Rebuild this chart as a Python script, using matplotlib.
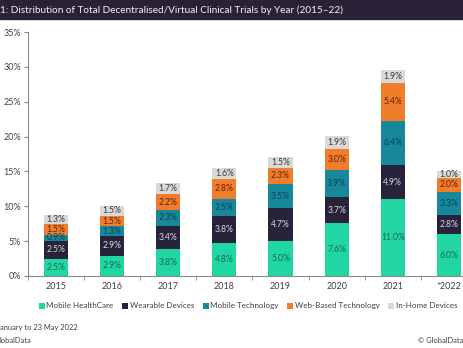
import matplotlib.pyplot as plt
import numpy as np
from matplotlib.patches import Rectangle

plt.rcParams["font.family"] = ["Lato", "DejaVu Sans"]

years = ["2015", "2016", "2017", "2018", "2019", "2020", "2021", "*2022"]
mobile_healthcare = [2.5, 2.9, 3.8, 4.8, 5.0, 7.6, 11.0, 6.0]
wearable_devices = [2.5, 2.9, 3.4, 3.8, 4.7, 3.7, 4.9, 2.8]
mobile_technology = [0.9, 1.3, 2.3, 2.5, 3.5, 3.9, 6.4, 3.3]
web_based = [1.5, 1.5, 2.2, 2.8, 2.3, 3.0, 5.4, 2.0]
in_home = [1.3, 1.5, 1.7, 1.6, 1.5, 1.9, 1.9, 1.0]

series = [
    ("Mobile HealthCare", mobile_healthcare, "#22d6a3", "#0f6b52"),
    ("Wearable Devices", wearable_devices, "#28223a", "#d8d8e0"),
    ("Mobile Technology", mobile_technology, "#17889a", "#0d3f55"),
    ("Web-Based Technology", web_based, "#f07d2c", "#5a2608"),
    ("In-Home Devices", in_home, "#d9d9d9", "#3a3a3a"),
]

fig = plt.figure(figsize=(4.64, 3.48), dpi=100)

# dark header band with the title
fig.patches.append(Rectangle((0, 0.945), 1, 0.055, transform=fig.transFigure,
                             color="#2b2136", zorder=0))
fig.text(0.0, 0.972, "1: Distribution of Total Decentralised/Virtual Clinical Trials by Year (2015\u201322)",
         color="#f2f2f2", fontsize=7.2, va="center", ha="left")

ax = fig.add_axes([0.060, 0.207, 0.968, 0.701])
x = np.arange(len(years))
bottom = np.zeros(len(years))
for name, vals, col, tcol in series:
    vals = np.array(vals)
    ax.bar(x, vals, 0.43, bottom=bottom, color=col, label=name, zorder=2)
    for xi, b, v in zip(x, bottom, vals):
        ax.text(xi, b + v / 2, f"{v:.1f}%", ha="center", va="center",
                fontsize=6.2, color=tcol, zorder=3)
    bottom += vals

ax.set_ylim(0, 35)
ax.set_xlim(-0.5, len(years) - 0.5)
ax.set_yticks(np.arange(0, 36, 5))
ax.set_yticklabels([f"{v}%" for v in range(0, 36, 5)], fontsize=6.5, color="#404040")
ax.set_xticks(x)
ax.set_xticklabels(years, fontsize=6.5, color="#404040")
ax.tick_params(axis="x", length=0, pad=4)
ax.set_xticks(np.arange(-0.5, len(years), 1), minor=True)
ax.tick_params(axis="x", which="minor", length=3, color="#888888")
ax.tick_params(axis="y", length=3, color="#888888", pad=2)
for s in ["top", "right"]:
    ax.spines[s].set_visible(False)
for s in ["left", "bottom"]:
    ax.spines[s].set_color("#888888")
    ax.spines[s].set_linewidth(0.8)

fig.legend(loc="center left", bbox_to_anchor=(0.084, 0.121), ncol=5, frameon=False,
           fontsize=5.8, handlelength=0.75, handleheight=0.75, handletextpad=0.15,
           columnspacing=1.1, labelcolor="#404040", borderaxespad=0, borderpad=0)

fig.text(0.0, 0.058, "anuary to 23 May 2022", fontsize=5.4, color="#404040", va="center")
fig.text(0.0, 0.022, "lobalData", fontsize=5.4, color="#404040", va="center")
fig.text(0.998, 0.022, "\u00a9 GlobalData", fontsize=5.4, color="#404040", va="center", ha="right")

fig.savefig("out.png", dpi=100)
